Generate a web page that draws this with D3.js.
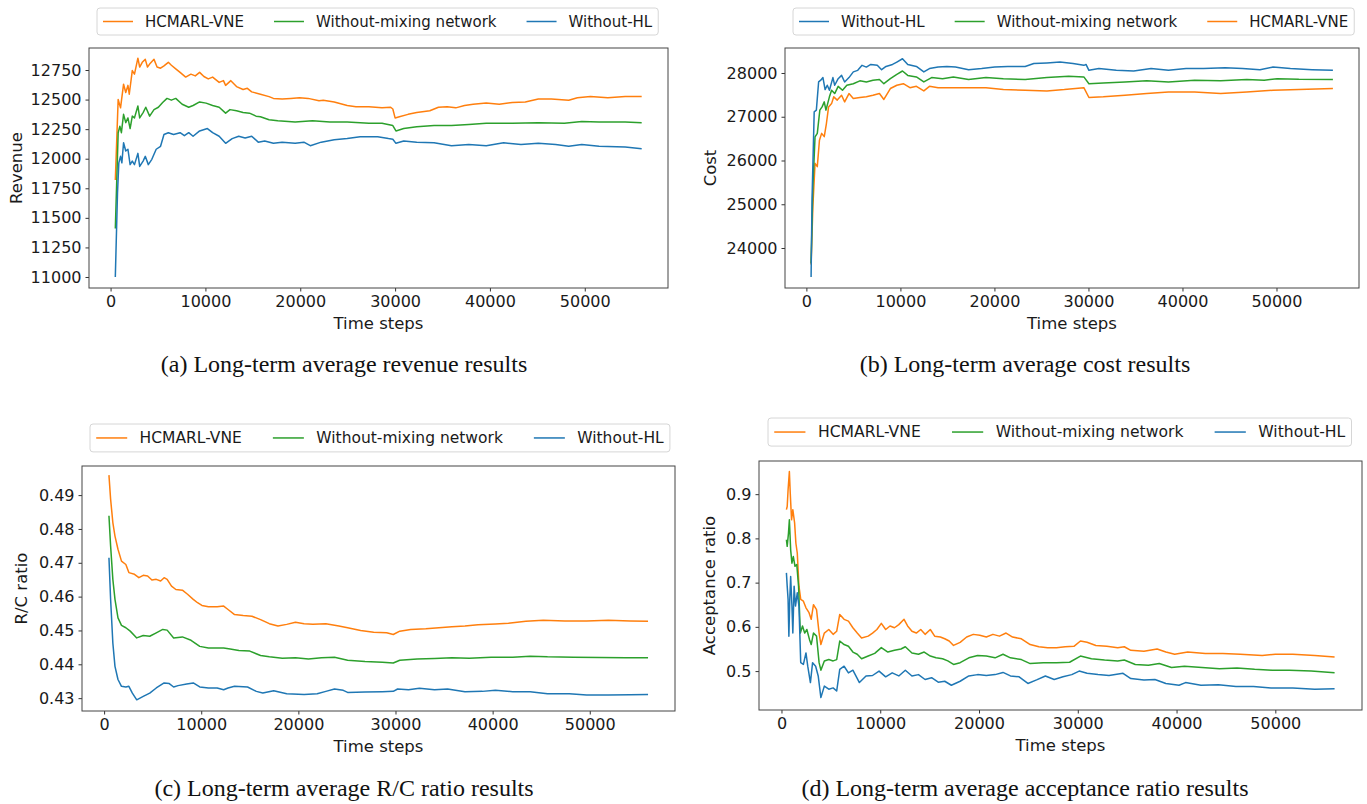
<!DOCTYPE html>
<html>
<head>
<meta charset="utf-8">
<script src="https://cdn.jsdelivr.net/npm/d3@7"></script>
<style>
  body { margin: 0; background: #fff; }
  svg { display: block; }
</style>
</head>
<body>
<div id="chart"></div>
<script>
const WIDTH = 1367
const HEIGHT = 804

const HCMARL = "HCMARL-VNE"
const MIXING = "Without-mixing network"
const NOHL = "Without-HL"

const COLORS = {}
COLORS[HCMARL] = "#ff7f0e"
COLORS[MIXING] = "#2ca02c"
COLORS[NOHL] = "#1f77b4"

const STEP_TICKS = [0, 10000, 20000, 30000, 40000, 50000]
const REVENUE_TICKS = [11000, 11250, 11500, 11750, 12000, 12250, 12500, 12750]
const COST_TICKS = [24000, 25000, 26000, 27000, 28000]
const RC_TICKS = [0.43, 0.44, 0.45, 0.46, 0.47, 0.48, 0.49]
const ACCEPT_TICKS = [0.5, 0.6, 0.7, 0.8, 0.9]

// [time step, value]

// (a) revenue
const revenueHCMARL = [[500,11820],[800,12500],[1050,12430],[1370,12630],[1600,12560],[1830,12620],[1970,12545],[2290,12745],[2520,12715],[2880,12850],[3070,12775],[3340,12815],[3660,12840],[3890,12775],[4120,12800],[4580,12840],[4900,12775],[5270,12765],[5630,12785],[6090,12815],[6410,12790],[6870,12760],[7330,12730],[7920,12690],[8470,12715],[8930,12700],[9390,12730],[9840,12695],[10300,12675],[10760,12690],[11450,12645],[11900,12660],[12130,12620],[12680,12660],[13280,12610],[13970,12585],[14420,12595],[14880,12565],[15800,12545],[16710,12525],[17170,12510],[18090,12505],[19000,12510],[19920,12515],[20830,12510],[21980,12490],[22430,12495],[23580,12480],[24950,12450],[25870,12440],[27240,12440],[28620,12430],[29530,12435],[29760,12420],[30000,12345],[30450,12355],[31370,12375],[32280,12390],[33660,12405],[34570,12435],[35490,12440],[36400,12430],[37320,12450],[38230,12460],[39610,12470],[40980,12460],[42360,12475],[43730,12480],[45100,12505],[46480,12505],[48310,12495],[49220,12515],[50600,12525],[52430,12515],[54260,12525],[56000,12525]]
const revenueMixing = [[500,11410],[800,12220],[980,12275],[1140,12220],[1370,12375],[1600,12305],[1830,12345],[2060,12255],[2290,12360],[2520,12345],[2880,12445],[3070,12345],[3430,12390],[3710,12435],[4120,12360],[4580,12415],[5040,12435],[5490,12475],[5950,12510],[6410,12495],[6870,12510],[7550,12460],[8240,12435],[8700,12450],[9390,12480],[10070,12470],[10760,12450],[11450,12435],[12130,12385],[12590,12415],[13280,12405],[13970,12390],[14650,12385],[15340,12360],[15800,12355],[16710,12330],[17630,12320],[19460,12310],[21290,12320],[23120,12310],[24950,12310],[27240,12300],[28620,12300],[29760,12280],[30090,12235],[30910,12255],[32280,12270],[34110,12280],[35950,12280],[37770,12290],[39610,12300],[42360,12300],[45100,12305],[47850,12300],[49680,12315],[51510,12310],[54260,12310],[56000,12305]]
const revenueNoHL = [[500,11000],[730,11710],[870,11965],[1050,12020],[1190,11965],[1370,12135],[1600,12065],[1830,12080],[2060,11950],[2290,11980],[2520,11950],[2880,12045],[3070,11935],[3430,11980],[3660,12020],[3980,11950],[4350,11995],[4810,12080],[5270,12105],[5630,12205],[6090,12220],[6640,12205],[7330,12220],[7780,12195],[8240,12220],[8700,12190],[9390,12235],[10210,12255],[10760,12220],[11450,12190],[12130,12130],[12820,12170],[13510,12190],[14190,12175],[14880,12190],[15570,12140],[16250,12150],[17170,12130],[18090,12140],[19460,12130],[20380,12140],[21060,12110],[22210,12140],[23580,12160],[24950,12170],[26320,12185],[28160,12185],[29300,12170],[29760,12165],[30090,12130],[30910,12150],[32280,12140],[34110,12135],[35950,12110],[37770,12120],[39610,12110],[41440,12135],[43270,12120],[45100,12130],[46930,12120],[48310,12105],[49680,12120],[51510,12105],[54260,12100],[56000,12085]]

// (b) cost
const costNoHL = [[500,23340],[600,25100],[830,27110],[1060,27150],[1300,27795],[1530,27835],[1760,27895],[1990,27620],[2220,27720],[2450,27605],[2820,27895],[3010,27720],[3380,27870],[3740,27945],[4070,27795],[4530,27895],[4990,28025],[5460,28060],[5920,28175],[6380,28135],[6850,28195],[7540,28175],[8000,28075],[8470,28150],[9160,28195],[9620,28250],[10220,28325],[10780,28195],[11700,28150],[12490,28025],[13090,28100],[14010,28135],[14940,28150],[15860,28135],[17250,28075],[18640,28100],[20030,28135],[21420,28150],[23270,28150],[24190,28215],[25580,28230],[26970,28250],[28360,28215],[29510,28175],[29740,28195],[30050,28060],[31110,28100],[32960,28060],[34810,28045],[36660,28100],[38510,28060],[40380,28100],[42230,28100],[44540,28120],[46390,28100],[48240,28075],[49630,28135],[51480,28100],[53790,28075],[56000,28060]]
const costMixing = [[500,23650],[690,25400],[920,26540],[1160,26620],[1430,27150],[1670,27225],[1900,27340],[2080,27150],[2450,27455],[2680,27605],[3010,27530],[3380,27695],[3840,27605],[4300,27720],[4990,27755],[5690,27820],[6380,27795],[7080,27835],[7770,27850],[8240,27755],[8930,27870],[9620,27970],[10220,28045],[10780,27945],[11700,27910],[12490,27795],[13320,27895],[14480,27870],[15630,27910],[17250,27850],[19100,27895],[20950,27870],[23270,27850],[25580,27895],[27890,27925],[29510,27910],[30050,27755],[31580,27770],[33890,27795],[36200,27820],[38510,27795],[41290,27835],[44060,27820],[46840,27850],[48690,27835],[50070,27870],[52380,27855],[56000,27850]]
const costHCMARL = [[500,23620],[690,24950],[920,25935],[1160,25860],[1390,26465],[1620,26620],[1900,26545],[2130,26845],[2360,27225],[2680,27300],[2910,27455],[3280,27380],[3740,27490],[4070,27340],[4530,27530],[4990,27415],[5690,27440],[6380,27455],[7080,27490],[7770,27530],[8240,27395],[8930,27645],[9620,27720],[10310,27755],[11010,27665],[11700,27695],[12490,27590],[13090,27695],[14010,27665],[15400,27665],[17250,27665],[19100,27665],[20950,27620],[23270,27605],[25580,27590],[27430,27620],[29510,27665],[30050,27440],[31580,27455],[33890,27490],[36200,27530],[38510,27565],[41290,27565],[44060,27530],[46840,27565],[49630,27605],[52380,27620],[56000,27645]]

// (c) R/C ratio
const rcHCMARL = [[500,0.4959],[670,0.4888],[900,0.4819],[1120,0.4779],[1430,0.4740],[1790,0.4705],[2240,0.4695],[2550,0.4671],[3130,0.4666],[3580,0.4656],[4030,0.4663],[4480,0.4661],[4920,0.4649],[5370,0.4651],[5820,0.4646],[6180,0.4656],[6490,0.4651],[6940,0.4631],[7390,0.4621],[8060,0.4619],[8590,0.4607],[9180,0.4592],[9620,0.4582],[10070,0.4574],[10740,0.4570],[11640,0.4570],[12310,0.4572],[12760,0.4562],[13430,0.4547],[14320,0.4544],[15220,0.4542],[16110,0.4532],[17010,0.4520],[17900,0.4513],[18800,0.4518],[19700,0.4524],[20590,0.4520],[21490,0.4518],[22830,0.4520],[24170,0.4513],[25070,0.4508],[26410,0.4500],[27750,0.4495],[29090,0.4493],[29770,0.4488],[30440,0.4498],[31560,0.4503],[33120,0.4505],[34470,0.4508],[35810,0.4511],[37150,0.4513],[38490,0.4517],[40280,0.4519],[41620,0.4521],[43420,0.4527],[45210,0.4530],[47440,0.4528],[49680,0.4528],[51920,0.4530],[54160,0.4528],[56000,0.4527]]
const rcMixing = [[500,0.4839],[670,0.4750],[900,0.4651],[1120,0.4592],[1430,0.4537],[1790,0.4515],[2240,0.4508],[2690,0.4498],[3360,0.4478],[4030,0.4485],[4700,0.4483],[5370,0.4493],[6040,0.4503],[6490,0.4501],[7160,0.4478],[8060,0.4481],[8950,0.4471],[9850,0.4453],[10740,0.4448],[11640,0.4448],[12310,0.4448],[12980,0.4445],[13880,0.4441],[15000,0.4439],[16110,0.4426],[17010,0.4422],[18350,0.4418],[19700,0.4419],[21040,0.4416],[22380,0.4419],[23720,0.4421],[25070,0.4412],[26860,0.4408],[28650,0.4406],[29770,0.4404],[30440,0.4412],[32230,0.4416],[34020,0.4417],[35810,0.4419],[37600,0.4418],[39840,0.4421],[42070,0.4421],[43860,0.4424],[45650,0.4422],[48340,0.4421],[51020,0.4420],[53710,0.4419],[56000,0.4419]]
const rcNoHL = [[500,0.4715],[670,0.4592],[900,0.4463],[1120,0.4394],[1430,0.4355],[1790,0.4335],[2240,0.4333],[2550,0.4335],[2910,0.4315],[3360,0.4295],[4030,0.4305],[4700,0.4315],[5370,0.4330],[6180,0.4345],[6710,0.4343],[7160,0.4333],[7610,0.4337],[8500,0.4342],[9180,0.4345],[9850,0.4333],[10740,0.4330],[11640,0.4330],[12310,0.4325],[12760,0.4330],[13430,0.4335],[14770,0.4333],[15670,0.4320],[16340,0.4315],[17460,0.4322],[18800,0.4313],[20590,0.4311],[21940,0.4313],[22830,0.4320],[23720,0.4327],[24620,0.4323],[25070,0.4317],[26860,0.4318],[28650,0.4319],[29770,0.4320],[30220,0.4327],[31340,0.4325],[32460,0.4329],[34020,0.4325],[35360,0.4327],[37150,0.4319],[38940,0.4320],[40280,0.4323],[42070,0.4319],[43860,0.4319],[45650,0.4313],[47890,0.4313],[49680,0.4309],[51920,0.4309],[54160,0.4310],[56000,0.4311]]

// (d) acceptance ratio
const acceptHCMARL = [[500,0.865],[580,0.872],[670,0.910],[800,0.951],[890,0.902],[1020,0.842],[1150,0.865],[1330,0.835],[1460,0.789],[1600,0.767],[1770,0.692],[1950,0.662],[2220,0.658],[2480,0.643],[2790,0.632],[3010,0.617],[3240,0.650],[3550,0.639],[3810,0.586],[3990,0.560],[4340,0.586],[4790,0.594],[5230,0.583],[5590,0.590],[5900,0.628],[6340,0.617],[6780,0.613],[7230,0.598],[7670,0.586],[8110,0.575],[8780,0.579],[9220,0.586],[9660,0.594],[10110,0.608],[10550,0.594],[10990,0.602],[11440,0.598],[11880,0.605],[12410,0.617],[12770,0.602],[13210,0.590],[13650,0.586],[14100,0.594],[14540,0.583],[15070,0.594],[15510,0.579],[16090,0.577],[16530,0.573],[16980,0.568],[17420,0.558],[18090,0.565],[18750,0.577],[19420,0.583],[20080,0.581],[20740,0.577],[21410,0.583],[22070,0.579],[22740,0.586],[23400,0.577],[24290,0.573],[25180,0.560],[26060,0.555],[26950,0.553],[27840,0.553],[28720,0.555],[29610,0.556],[30270,0.568],[30940,0.565],[31830,0.558],[32940,0.556],[34040,0.553],[34710,0.555],[35370,0.547],[36700,0.545],[38030,0.550],[38920,0.543],[39810,0.538],[41130,0.543],[42910,0.540],[44680,0.540],[46450,0.538],[48670,0.535],[50000,0.538],[51770,0.538],[53990,0.535],[56000,0.532]]
const acceptMixing = [[500,0.797],[580,0.782],[710,0.812],[800,0.842],[930,0.774],[1060,0.744],[1200,0.759],[1370,0.737],[1550,0.741],[1730,0.692],[1910,0.586],[2130,0.602],[2350,0.586],[2570,0.594],[2840,0.571],[3010,0.560],[3240,0.586],[3550,0.579],[3810,0.519],[3990,0.502],[4340,0.523],[4790,0.526],[5230,0.523],[5590,0.526],[5900,0.568],[6340,0.560],[6780,0.556],[7230,0.543],[7670,0.538],[8110,0.528],[8780,0.534],[9440,0.540],[10110,0.553],[10770,0.543],[11440,0.547],[12100,0.550],[12540,0.555],[13210,0.541],[13870,0.538],[14450,0.543],[15070,0.534],[15650,0.530],[16310,0.528],[16840,0.523],[17420,0.515],[18090,0.519],[18970,0.530],[19860,0.535],[20740,0.534],[21630,0.530],[22430,0.538],[23180,0.530],[24290,0.526],[25180,0.517],[26510,0.519],[27840,0.519],[29170,0.520],[30270,0.534],[31380,0.528],[32710,0.525],[34040,0.523],[34710,0.525],[35820,0.515],[37150,0.513],[38250,0.517],[39490,0.508],[40800,0.511],[42580,0.508],[44350,0.505],[46120,0.507],[47900,0.504],[49650,0.502],[51420,0.502],[53630,0.500],[56000,0.496]]
const acceptNoHL = [[500,0.722],[580,0.692],[670,0.662],[750,0.579],[840,0.662],[930,0.714],[1060,0.647],[1150,0.586],[1280,0.692],[1420,0.647],[1600,0.677],[1770,0.647],[1950,0.519],[2220,0.515],[2480,0.541],[2660,0.511],[2930,0.474],[3150,0.519],[3460,0.511],[3720,0.489],[3990,0.440],[4340,0.466],[4790,0.459],[5230,0.462],[5590,0.455],[5900,0.504],[6340,0.511],[6780,0.496],[7230,0.502],[7890,0.474],[8560,0.489],[9220,0.490],[9880,0.500],[10550,0.487],[11210,0.496],[11880,0.489],[12540,0.502],[13210,0.489],[13870,0.492],[14540,0.481],[15200,0.485],[15870,0.475],[16530,0.477],[17200,0.468],[18090,0.477],[18970,0.489],[19860,0.492],[20740,0.490],[21630,0.492],[22430,0.497],[23180,0.489],[24060,0.487],[24950,0.472],[25830,0.480],[26720,0.489],[27610,0.481],[28500,0.487],[29390,0.492],[30140,0.500],[30940,0.495],[32050,0.492],[33160,0.490],[34580,0.495],[35370,0.483],[36700,0.480],[37810,0.481],[38920,0.472],[40250,0.468],[40910,0.474],[42470,0.468],[44240,0.469],[46010,0.465],[47790,0.465],[49560,0.462],[51770,0.462],[53990,0.459],[56000,0.460]]

const PANELS = [
    {
        frame: { left: 89, top: 48, right: 668, bottom: 288 },
        yDomain: [10907, 12936],
        yTicks: REVENUE_TICKS,
        yFormat: d3.format("d"),
        yLabel: "Revenue", yLabelX: 16,
        series: [[HCMARL, revenueHCMARL], [MIXING, revenueMixing], [NOHL, revenueNoHL]],
        legend: { order: [HCMARL, MIXING, NOHL], left: 97, top: 8, fontSize: 15 },
        caption: "(a) Long-term average revenue results", captionX: 344, captionY: 372
    },
    {
        frame: { left: 785, top: 48, right: 1359, bottom: 288 },
        yDomain: [23086, 28571],
        yTicks: COST_TICKS,
        yFormat: d3.format("d"),
        yLabel: "Cost", yLabelX: 710,
        series: [[HCMARL, costHCMARL], [MIXING, costMixing], [NOHL, costNoHL]],
        legend: { order: [NOHL, MIXING, HCMARL], left: 793, top: 8, fontSize: 15 },
        caption: "(b) Long-term average cost results", captionX: 1025, captionY: 372
    },
    {
        frame: { left: 82, top: 466, right: 675, bottom: 711 },
        yDomain: [0.4262, 0.4986],
        yTicks: RC_TICKS,
        yFormat: d3.format(".2f"),
        yLabel: "R/C ratio", yLabelX: 21,
        series: [[HCMARL, rcHCMARL], [MIXING, rcMixing], [NOHL, rcNoHL]],
        legend: { order: [HCMARL, MIXING, NOHL], left: 90, top: 424, fontSize: 15.5 },
        caption: "(c) Long-term average R/C ratio results", captionX: 344, captionY: 796
    },
    {
        frame: { left: 759, top: 461, right: 1362, bottom: 710 },
        yDomain: [0.412, 0.975],
        yTicks: ACCEPT_TICKS,
        yFormat: d3.format(".1f"),
        yLabel: "Acceptance ratio", yLabelX: 709,
        series: [[HCMARL, acceptHCMARL], [MIXING, acceptMixing], [NOHL, acceptNoHL]],
        legend: { order: [HCMARL, MIXING, NOHL], left: 768, top: 418, fontSize: 15.6 },
        caption: "(d) Long-term average acceptance ratio results", captionX: 1025, captionY: 796
    }
]

const FONT = "DejaVu Sans"
const TEXT_COLOR = "#1a1a1a"

const svg = d3.select("#chart")
    .append("svg")
    .attr("width", WIDTH)
    .attr("height", HEIGHT)
    .style("background", "#fff")

function drawPanel(p) {
    const g = svg.append("g")

    // matplotlib-style 5% margin around the step range
    const allSteps = p.series.flatMap(s => s[1].map(d => d[0]))
    const [x0, x1] = d3.extent(allSteps)
    const pad = (x1 - x0) * 0.05

    const x = d3.scaleLinear()
        .domain([x0 - pad, x1 + pad])
        .range([p.frame.left, p.frame.right])

    const y = d3.scaleLinear()
        .domain(p.yDomain)
        .range([p.frame.bottom, p.frame.top])

    const line = d3.line()
        .x(d => x(d[0]))
        .y(d => y(d[1]))

    g.append("g")
        .selectAll("path")
        .data(p.series)
        .join("path")
        .attr("fill", "none")
        .attr("stroke", d => COLORS[d[0]])
        .attr("stroke-width", 1.5)
        .attr("stroke-linejoin", "round")
        .attr("d", d => line(d[1]))

    const xAxis = g.append("g")
        .attr("transform", `translate(0,${p.frame.bottom})`)
        .call(d3.axisBottom(x).tickValues(STEP_TICKS).tickFormat(d3.format("d")).tickSize(3.5).tickPadding(4))

    const yAxis = g.append("g")
        .attr("transform", `translate(${p.frame.left},0)`)
        .call(d3.axisLeft(y).tickValues(p.yTicks).tickFormat(p.yFormat).tickSize(3.5).tickPadding(4))

    for (const ax of [xAxis, yAxis]) {
        ax.select(".domain").remove()
        ax.selectAll("line").attr("stroke", "#333")
        ax.selectAll("text")
            .attr("font-family", FONT)
            .attr("font-size", 16)
            .attr("fill", TEXT_COLOR)
    }

    g.append("rect")
        .attr("x", p.frame.left)
        .attr("y", p.frame.top)
        .attr("width", p.frame.right - p.frame.left)
        .attr("height", p.frame.bottom - p.frame.top)
        .attr("fill", "none")
        .attr("stroke", "#444")
        .attr("stroke-width", 1)

    g.append("text")
        .attr("x", (p.frame.left + p.frame.right) / 2)
        .attr("y", p.frame.bottom + 35)
        .attr("text-anchor", "middle")
        .attr("dominant-baseline", "central")
        .attr("font-family", FONT)
        .attr("font-size", 16.5)
        .attr("fill", TEXT_COLOR)
        .text("Time steps")

    g.append("text")
        .attr("transform", `translate(${p.yLabelX},${(p.frame.top + p.frame.bottom) / 2}) rotate(-90)`)
        .attr("text-anchor", "middle")
        .attr("dominant-baseline", "central")
        .attr("font-family", FONT)
        .attr("font-size", 16.5)
        .attr("fill", TEXT_COLOR)
        .text(p.yLabel)

    drawLegend(p.legend)

    // caption under each panel, serif like the paper
    svg.append("text")
        .attr("x", p.captionX)
        .attr("y", p.captionY)
        .attr("text-anchor", "middle")
        .attr("font-family", "Liberation Serif")
        .attr("font-size", 24)
        .attr("fill", "#111")
        .text(p.caption)
}

function drawLegend(lg) {
    const fs = lg.fontSize
    const h = fs * 1.8
    const cy = lg.top + h / 2
    const g = svg.append("g")
    const box = g.append("rect")

    let cx = lg.left + 0.4 * fs
    lg.order.forEach((name, i) => {
        g.append("line")
            .attr("x1", cx).attr("x2", cx + 2 * fs)
            .attr("y1", cy).attr("y2", cy)
            .attr("stroke", COLORS[name])
            .attr("stroke-width", 1.5)
        cx += 2.8 * fs
        const t = g.append("text")
            .attr("x", cx)
            .attr("y", cy)
            .attr("dominant-baseline", "central")
            .attr("font-family", FONT)
            .attr("font-size", fs)
            .attr("fill", TEXT_COLOR)
            .text(name)
        cx += t.node().getComputedTextLength()
        if (i < lg.order.length - 1) cx += 2 * fs
    })

    box.attr("x", lg.left)
        .attr("y", lg.top)
        .attr("width", cx + 0.4 * fs - lg.left)
        .attr("height", h)
        .attr("rx", 3)
        .attr("fill", "#fff")
        .attr("fill-opacity", 0.8)
        .attr("stroke", "#d6d6d6")
}

PANELS.forEach(drawPanel)
</script>
</body>
</html>
